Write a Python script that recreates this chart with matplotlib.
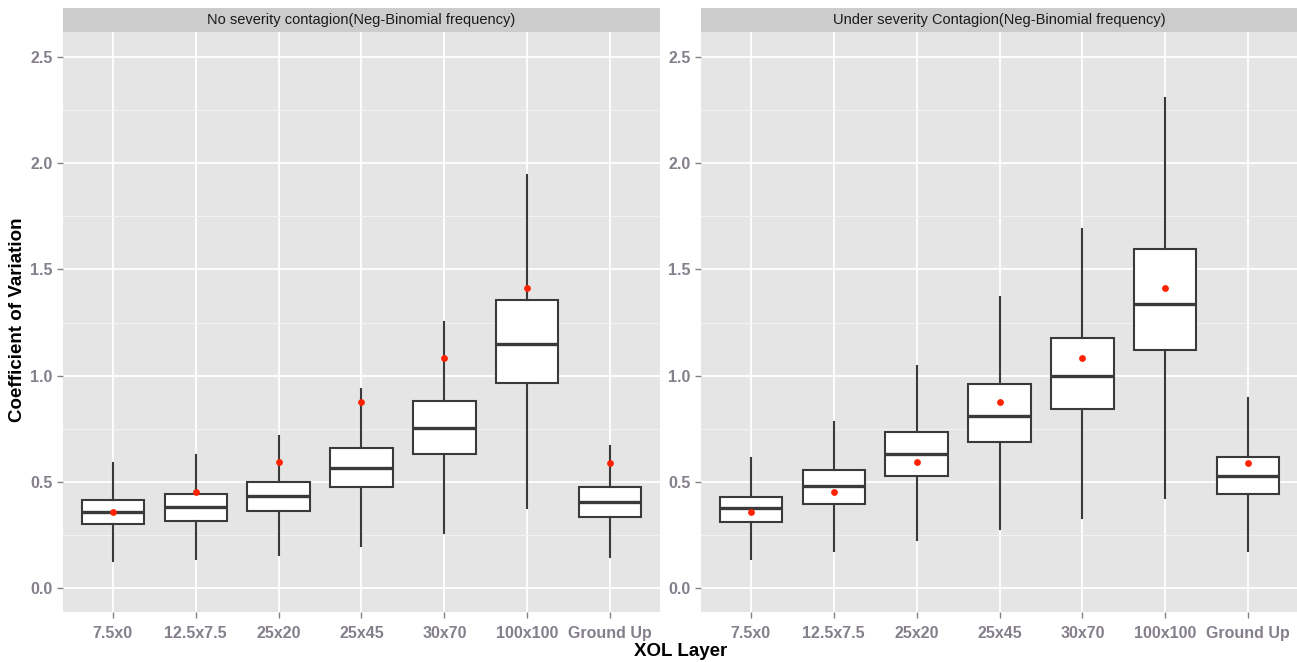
import numpy as np
import matplotlib
matplotlib.use('Agg')
import matplotlib.pyplot as plt

plt.rcParams['font.family'] = ['Liberation Sans', 'DejaVu Sans']

layers = ['7.5x0', '12.5x7.5', '25x20', '25x45', '30x70', '100x100', 'Ground Up']
panel_titles = ['No severity contagion(Neg-Binomial frequency)',
                'Under severity Contagion(Neg-Binomial frequency)']

# panel 1: no severity contagion
no_whislo = [0.127, 0.138, 0.155, 0.200, 0.260, 0.375, 0.147]
no_q1     = [0.300, 0.315, 0.364, 0.474, 0.629, 0.967, 0.336]
no_med    = [0.358, 0.380, 0.435, 0.566, 0.753, 1.149, 0.406]
no_q3     = [0.414, 0.443, 0.499, 0.658, 0.882, 1.356, 0.477]
no_whishi = [0.590, 0.625, 0.716, 0.935, 1.254, 1.944, 0.670]

# panel 2: under severity contagion
un_whislo = [0.135, 0.174, 0.226, 0.278, 0.331, 0.425, 0.176]
un_q1     = [0.309, 0.397, 0.527, 0.686, 0.841, 1.120, 0.441]
un_med    = [0.375, 0.480, 0.629, 0.811, 0.997, 1.337, 0.527]
un_q3     = [0.430, 0.554, 0.733, 0.959, 1.175, 1.595, 0.618]
un_whishi = [0.614, 0.783, 1.045, 1.371, 1.689, 2.305, 0.893]

# mean (red dot), same in both panels
means = [0.357, 0.453, 0.595, 0.876, 1.081, 1.411, 0.590]

W, H = 1297, 662
fig = plt.figure(figsize=(W / 100, H / 100), dpi=100)

tick_col = '#857f8c'
box_col = '#3a3a3a'

def make_stats(lo, q1, med, q3, hi):
    out = []
    for i in range(len(lo)):
        out.append(dict(whislo=lo[i], q1=q1[i], med=med[i], q3=q3[i], whishi=hi[i], fliers=[]))
    return out

panels = [
    (63, make_stats(no_whislo, no_q1, no_med, no_q3, no_whishi)),
    (701, make_stats(un_whislo, un_q1, un_med, un_q3, un_whishi)),
]

pos = np.arange(1, len(layers) + 1)
for k, (x0, stats) in enumerate(panels):
    ax = fig.add_axes([x0 / W, (H - 612) / H, 597 / W, 580 / H])
    ax.set_facecolor('#E5E5E5')
    for s in ax.spines.values():
        s.set_visible(False)

    ax.bxp(stats, positions=pos, widths=0.75, showfliers=False, showcaps=False,
           patch_artist=True, manage_ticks=False,
           boxprops=dict(facecolor='white', edgecolor=box_col, linewidth=1.5),
           whiskerprops=dict(color=box_col, linewidth=1.5),
           medianprops=dict(color=box_col, linewidth=2.4))
    ax.scatter(pos, means, s=24, color='#FF2200', zorder=5, linewidths=0)

    ax.set_xlim(0.4, 7.6)
    ax.set_ylim(-0.113, 2.618)
    ax.set_yticks([0.0, 0.5, 1.0, 1.5, 2.0, 2.5])
    ax.set_yticks([0.25, 0.75, 1.25, 1.75, 2.25], minor=True)
    ax.set_xticks(pos)
    ax.set_xticklabels(layers)
    ax.grid(which='major', color='white', linewidth=1.3)
    ax.grid(which='minor', axis='y', color='#F2F2F2', linewidth=0.7)
    ax.set_axisbelow(True)
    ax.tick_params(axis='both', which='major', colors=tick_col, length=4, width=1,
                   labelsize=11.5, labelcolor=tick_col)
    ax.tick_params(axis='x', which='major', pad=6)
    ax.tick_params(axis='y', which='minor', length=0)
    for lab in ax.get_xticklabels() + ax.get_yticklabels():
        lab.set_fontweight('bold')

    # facet strip
    sax = fig.add_axes([x0 / W, (H - 32) / H, 597 / W, 24 / H])
    sax.set_facecolor('#CCCCCC')
    sax.set_xticks([])
    sax.set_yticks([])
    for s in sax.spines.values():
        s.set_visible(False)
    sax.text(0.5, 0.5, panel_titles[k], ha='center', va='center', fontsize=10.5,
             color='#1a1a1a', transform=sax.transAxes)

fig.text(18 / W, 1 - 320 / H, 'Coefficient of Variation', rotation=90, ha='center', va='center',
         fontsize=13.5, fontweight='bold', color='black')
fig.text(681 / W, 1 - 651 / H, 'XOL Layer', ha='center', va='center',
         fontsize=13.5, fontweight='bold', color='black')

fig.savefig('out.png', dpi=100)
